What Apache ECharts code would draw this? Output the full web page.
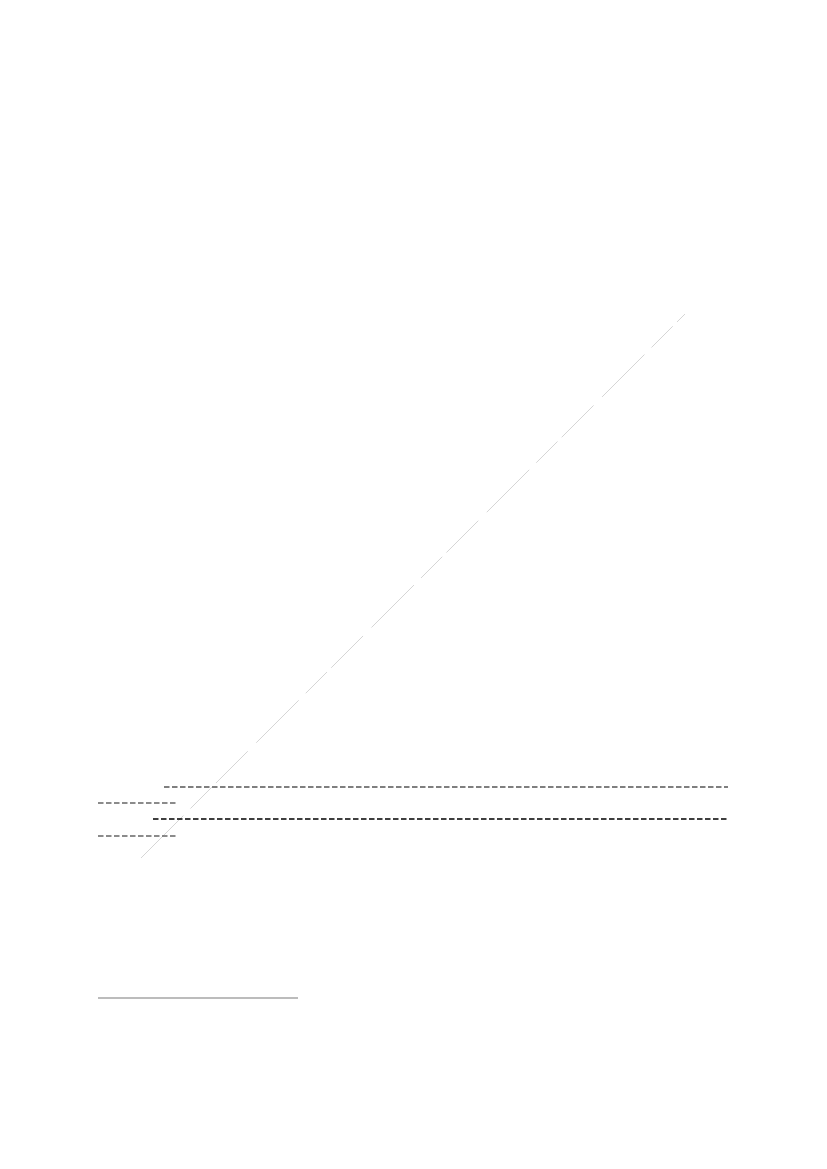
<!DOCTYPE html>
<html>
<head>
<meta charset="utf-8">
<script src="https://cdn.jsdelivr.net/npm/echarts@6/dist/echarts.min.js"></script>
<style>html,body{margin:0;padding:0;background:#fff}#c{width:827px;height:1169px}</style>
</head>
<body>
<div id="c"></div>
<script>
// Page-space extents (x: 0..827, y: 0..1169 from top)
const diagonalLine = [[141, 858], [685, 314]];
const dashedRow1 = [[164, 787], [728, 787]];
const dashedRow1Tail = [[98, 803], [176, 803]];
const dashedRow2 = [[153, 819], [728, 819]];
const dashedRow2Tail = [[98, 836], [176, 836]];
const solidRule = [[98, 998], [298, 998]];

const chart = echarts.init(document.getElementById('c'), null, {renderer: 'canvas'});
function seg(name, data, color, width, type) {
  return {name, type: 'line', data, symbol: 'none', silent: true, animation: false,
    lineStyle: {color, width, type}};
}
chart.setOption({
  backgroundColor: '#ffffff',
  animation: false,
  grid: {left: 0, right: 0, top: 0, bottom: 0},
  xAxis: {type: 'value', min: 0, max: 827, show: false},
  yAxis: {type: 'value', min: 0, max: 1169, inverse: true, show: false},
  series: [
    seg('diagonal', diagonalLine, '#d6d6d6', 1, [60, 10, 30, 6, 45, 12]),
    seg('row1', dashedRow1, '#555555', 1.3, [5.5, 2.5]),
    seg('row1tail', dashedRow1Tail, '#666666', 1.3, [5.5, 2.5]),
    seg('row2', dashedRow2, '#000000', 1.3, [5.5, 2.5]),
    seg('row2tail', dashedRow2Tail, '#666666', 1.3, [5.5, 2.5]),
    seg('rule', solidRule, '#7a7a7a', 1.2, 'solid')
  ]
});
</script>
</body>
</html>
